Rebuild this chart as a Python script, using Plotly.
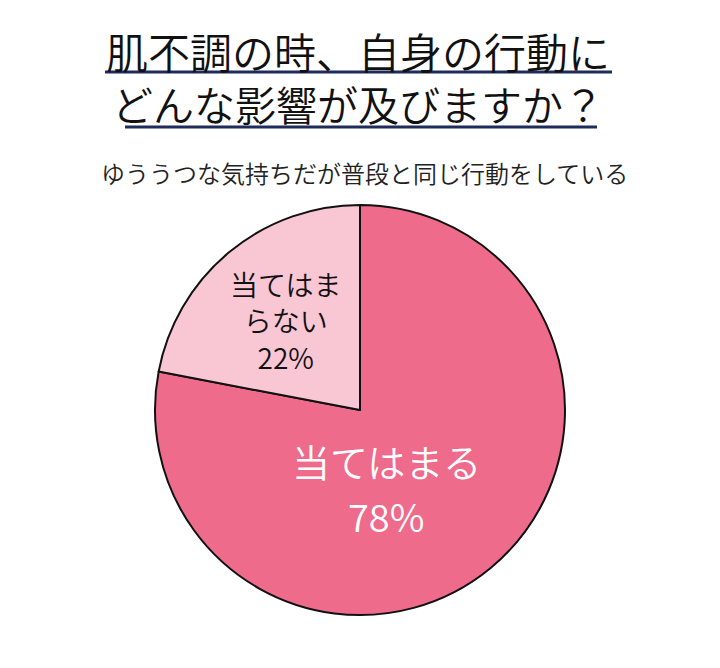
import plotly.graph_objects as go

# data
labels = ["当てはまる", "当てはまらない"]
values = [78, 22]
label_lines = [["当てはまる"], ["当てはま", "らない"]]

title_lines = ["肌不調の時、自身の行動に", "どんな影響が及びますか？"]
subtitle = "ゆううつな気持ちだが普段と同じ行動をしている"

W, H = 720, 668
OFF = 8  # page body margin
FONT = "Noto Sans CJK JP"
NAVY = "#1F2B5B"


def px_x(p):
    return (p - OFF) / W


def px_y(p):
    return 1 - (p - OFF) / H


def note(text, x, y, size, color, weight=350, height=None):
    d = dict(
        text=text, x=px_x(x), y=px_y(y), xref="paper", yref="paper",
        showarrow=False, xanchor="center", yanchor="middle",
        font=dict(family=FONT, size=size, color=color, weight=weight),
    )
    if height:
        d["height"] = height
    return d


fig = go.Figure()
fig.add_trace(go.Pie(
    labels=labels,
    values=values,
    textinfo="none",
    sort=False,
    direction="clockwise",
    rotation=0,
    marker=dict(colors=["#EE6B8B", "#F9C6D4"], line=dict(color="#111111", width=2)),
    domain=dict(x=[px_x(155), px_x(565)], y=[px_y(615), px_y(205)]),
    hoverinfo="label+percent",
    showlegend=False,
))

annotations = []
# title
for line, yc, size in zip(title_lines, [50, 103], [42, 41]):
    annotations.append(note(line, 358, yc, size, "#111111", height=46))
annotations.append(note(subtitle, 364, 172, 24, "#222222"))

# slice labels
big = label_lines[0] + [f"{values[0]}%"]
for line, yc in zip(big, [460, 515]):
    annotations.append(note(line, 386, yc, 38, "#ffffff"))
small = "<br>".join(label_lines[1] + [f"{values[1]}%"])
annotations.append(note(small, 285, 320, 28, "#111111"))

fig.update_layout(
    width=W,
    height=H,
    margin=dict(l=0, r=0, t=0, b=0),
    paper_bgcolor="white",
    plot_bgcolor="white",
    annotations=annotations,
    shapes=[
        dict(type="line", xref="paper", yref="paper",
             x0=px_x(105), x1=px_x(612), y0=px_y(72), y1=px_y(72),
             line=dict(color=NAVY, width=3)),
        dict(type="line", xref="paper", yref="paper",
             x0=px_x(125), x1=px_x(597), y0=px_y(127), y1=px_y(127),
             line=dict(color=NAVY, width=3)),
    ],
)

fig.write_html("out.html")
